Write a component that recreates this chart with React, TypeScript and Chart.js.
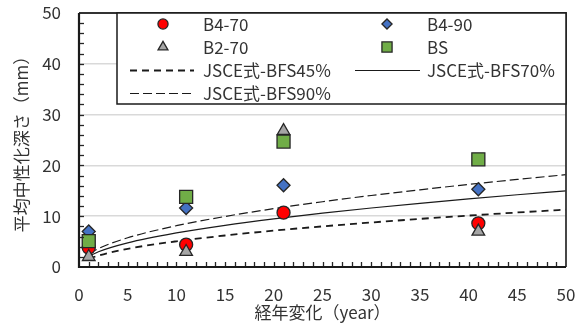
import React, { useEffect, useRef } from "react";
import { Chart, registerables } from "chart.js";

Chart.register(...registerables);

const xTicks = [0, 5, 10, 15, 20, 25, 30, 35, 40, 45, 50];
const years = [1, 11, 21, 41];
const b470 = [3.8, 4.4, 10.7, 8.6];
const b490 = [7.0, 11.6, 16.1, 15.3];
const b270 = [2.0, 3.0, 26.8, 7.0];
const bs = [5.1, 13.8, 24.7, 21.2];

const curveT = [1, 2, 5, 10, 15, 20, 25, 30, 35, 40, 45, 50];
const bfs45 = [1.6, 2.26, 3.58, 5.06, 6.2, 7.16, 8.0, 8.76, 9.47, 10.12, 10.73, 11.3];
const bfs70 = [2.12, 3.0, 4.74, 6.7, 8.21, 9.48, 10.6, 11.61, 12.54, 13.41, 14.22, 14.99];
const bfs90 = [2.57, 3.63, 5.75, 8.13, 9.95, 11.49, 12.85, 14.08, 15.2, 16.25, 17.24, 18.17];

const FONT = "'Noto Sans CJK JP', 'Noto Sans', sans-serif";
const TEXT = "#333333";

function pts(xs: number[], ys: number[]) {
  return xs.map((x, i) => ({ x, y: ys[i] }));
}

function drawMarker(ctx: CanvasRenderingContext2D, style: string, x: number, y: number, r: number, fill: string) {
  ctx.save();
  ctx.fillStyle = fill;
  ctx.strokeStyle = "#262626";
  ctx.lineWidth = 1.3;
  ctx.beginPath();
  if (style === "circle") {
    ctx.arc(x, y, r, 0, Math.PI * 2);
  } else if (style === "rectRot") {
    ctx.moveTo(x - r, y);
    ctx.lineTo(x, y - r);
    ctx.lineTo(x + r, y);
    ctx.lineTo(x, y + r);
    ctx.closePath();
  } else if (style === "triangle") {
    ctx.moveTo(x, y - r);
    ctx.lineTo(x + r * 0.866, y + r * 0.5);
    ctx.lineTo(x - r * 0.866, y + r * 0.5);
    ctx.closePath();
  } else {
    const s = r * Math.SQRT1_2;
    ctx.rect(x - s, y - s, 2 * s, 2 * s);
  }
  ctx.fill();
  ctx.stroke();
  ctx.restore();
}

const framePlugin = {
  id: "frameAndLegend",
  afterDraw(chart: any) {
    const { ctx, chartArea, scales } = chart;
    const xs = scales.x;
    const ys = scales.y;
    ctx.save();
    // minor ticks
    ctx.strokeStyle = "#262626";
    ctx.lineWidth = 1.3;
    for (let v = 1; v < 50; v++) {
      const px = Math.round(xs.getPixelForValue(v)) + 0.5;
      ctx.beginPath();
      ctx.moveTo(px, chartArea.bottom);
      ctx.lineTo(px, chartArea.bottom - 5);
      ctx.stroke();
    }
    for (let v = 2; v < 50; v += 2) {
      const py = Math.round(ys.getPixelForValue(v)) + 0.5;
      ctx.beginPath();
      ctx.moveTo(chartArea.left, py);
      ctx.lineTo(chartArea.left + 5, py);
      ctx.stroke();
    }
    // frame
    ctx.strokeStyle = "#333333";
    ctx.lineWidth = 1.8;
    ctx.beginPath();
    ctx.moveTo(chartArea.left, chartArea.top);
    ctx.lineTo(chartArea.right, chartArea.top);
    ctx.lineTo(chartArea.right, chartArea.bottom);
    ctx.stroke();
    ctx.strokeStyle = "#1a1a1a";
    ctx.lineWidth = 2.2;
    ctx.beginPath();
    ctx.moveTo(chartArea.left, chartArea.top);
    ctx.lineTo(chartArea.left, chartArea.bottom);
    ctx.lineTo(chartArea.right, chartArea.bottom);
    ctx.stroke();

    // legend box
    const lx = 117, ly = chartArea.top, lw = chartArea.right - 117, lh = 91;
    ctx.fillStyle = "#ffffff";
    ctx.fillRect(lx, ly, lw, lh);
    ctx.strokeStyle = "#1a1a1a";
    ctx.lineWidth = 1.5;
    ctx.strokeRect(lx, ly, lw, lh);

    const rows = [24, 47, 70, 93];
    const colMarker = [163, 387];
    const colText = [203, 427];
    const lineSpan = [[130, 194], [355, 420]];
    const ds = chart.data.datasets;
    ctx.font = `17px ${FONT}`;
    ctx.textBaseline = "middle";
    ctx.textAlign = "left";
    ds.forEach((d: any, i: number) => {
      const col = i % 2;
      const row = Math.floor(i / 2);
      const y = rows[row];
      if (d.showLine) {
        ctx.save();
        ctx.strokeStyle = d.borderColor;
        ctx.lineWidth = d.borderWidth;
        ctx.setLineDash(d.borderDash || []);
        ctx.beginPath();
        ctx.moveTo(lineSpan[col][0], y + 0.5);
        ctx.lineTo(lineSpan[col][1], y + 0.5);
        ctx.stroke();
        ctx.restore();
      } else {
        drawMarker(ctx, d.pointStyle, colMarker[col], y, d.pointRadius * 0.78, d.backgroundColor);
      }
      ctx.fillStyle = TEXT;
      ctx.fillText(d.label, colText[col], y + 1);
    });
    ctx.restore();
  },
};

export default function App() {
  const ref = useRef<HTMLCanvasElement | null>(null);
  useEffect(() => {
    document.body.style.margin = "0";
    const canvas = ref.current!;
    const chart = new Chart(canvas, {
      type: "scatter",
      data: {
        datasets: [
          { label: "B4-70", order: 7, data: pts(years, b470), pointStyle: "circle", pointRadius: 6.5, backgroundColor: "#ff0000", borderColor: "#262626", borderWidth: 1.3, showLine: false },
          { label: "B4-90", order: 6, data: pts(years, b490), pointStyle: "rectRot", pointRadius: 6.5, backgroundColor: "#4472c4", borderColor: "#262626", borderWidth: 1.3, showLine: false },
          { label: "B2-70", order: 5, data: pts(years, b270), pointStyle: "triangle", pointRadius: 7.3, backgroundColor: "#a5a5a5", borderColor: "#262626", borderWidth: 1.3, showLine: false },
          { label: "BS", order: 4, data: pts(years, bs), pointStyle: "rect", pointRadius: 9.2, backgroundColor: "#70ad47", borderColor: "#262626", borderWidth: 1.3, showLine: false },
          { label: "JSCE式-BFS45%", order: 10, data: pts(curveT, bfs45), showLine: true, borderColor: "#1a1a1a", borderWidth: 1.8, borderDash: [7, 5], pointRadius: 0, cubicInterpolationMode: "monotone", fill: false },
          { label: "JSCE式-BFS70%", order: 9, data: pts(curveT, bfs70), showLine: true, borderColor: "#1a1a1a", borderWidth: 1.2, borderDash: [], pointRadius: 0, cubicInterpolationMode: "monotone", fill: false },
          { label: "JSCE式-BFS90%", order: 8, data: pts(curveT, bfs90), showLine: true, borderColor: "#1a1a1a", borderWidth: 1.2, borderDash: [9, 4], pointRadius: 0, cubicInterpolationMode: "monotone", fill: false },
        ] as any,
      },
      options: {
        responsive: false,
        animation: false,
        events: [],
        layout: { padding: { top: 13, right: 13, left: 0, bottom: 0 } },
        plugins: { legend: { display: false }, tooltip: { enabled: false } },
        scales: {
          x: {
            type: "linear",
            min: 0,
            max: 50,
            afterBuildTicks: (s: any) => { s.ticks = xTicks.map((v) => ({ value: v })); },
            afterFit: (s: any) => { s.height = 62; s.paddingLeft = 0; s.paddingRight = 0; },
            grid: { display: false, drawTicks: false },
            border: { display: false },
            ticks: { font: { family: FONT, size: 17 }, color: TEXT, padding: 17, maxRotation: 0 },
            title: { display: true, text: "経年変化（year）", font: { family: FONT, size: 17 }, color: TEXT, padding: { top: 0, bottom: 6 } },
          },
          y: {
            type: "linear",
            min: 0,
            max: 50,
            ticks: { stepSize: 10, font: { family: FONT, size: 17 }, color: TEXT, padding: 18 },
            afterFit: (s: any) => { s.width = 79; s.paddingTop = 0; s.paddingBottom = 0; },
            grid: {
              drawTicks: false,
              color: (c: any) => (c.tick && (c.tick.value === 0 || c.tick.value === 50) ? "rgba(0,0,0,0)" : "#d9d9d9"),
              lineWidth: 1.5,
            },
            border: { display: false },
            title: { display: true, text: "平均中性化深さ（mm）", font: { family: FONT, size: 17 }, color: TEXT, padding: { top: 11, bottom: 0 } },
          },
        },
      } as any,
      plugins: [framePlugin],
    });
    return () => chart.destroy();
  }, []);
  return (
    <div style={{ width: 579, height: 329, background: "#fff" }}>
      <canvas ref={ref} width={579} height={329} />
    </div>
  );
}
